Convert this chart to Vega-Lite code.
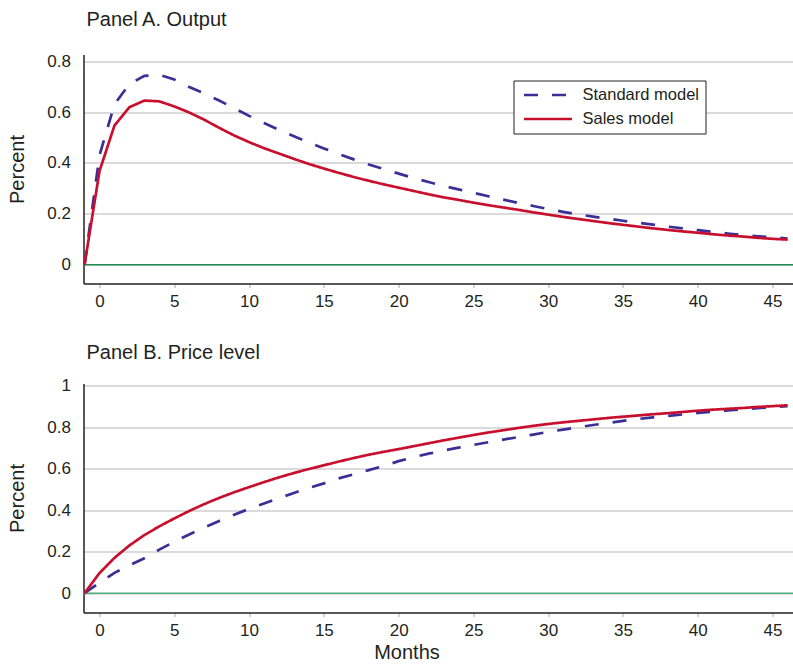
{
  "$schema": "https://vega.github.io/schema/vega-lite/v6.json",
  "padding": {"left": 6.5, "top": 9.5, "right": 0, "bottom": 0},
  "bounds": "flush",
  "spacing": 100,
  "background": "white",
  "config": {
    "font": "Liberation Sans",
    "view": {"stroke": null},
    "axis": {
      "labelFont": "Liberation Sans", "labelFontSize": 17, "labelColor": "#231f20",
      "titleFont": "Liberation Sans", "titleFontSize": 20, "titleFontWeight": "normal", "titleColor": "#231f20",
      "domainColor": "#231f20", "domainWidth": 1.5
    },
    "axisY": {"ticks": false, "labelPadding": 13, "gridColor": "#cfcfcf", "gridWidth": 1.5, "titlePadding": 19.5},
    "axisX": {"grid": false, "tickSize": 4, "tickColor": "#aaaaaa", "tickWidth": 1, "labelPadding": 5.5},
    "title": {"font": "Liberation Sans", "fontSize": 20, "fontWeight": "normal", "anchor": "start", "frame": "group", "color": "#231f20", "dx": 3, "offset": 14},
    "legend": {
      "orient": "none", "legendX": 430, "legendY": 26, "title": null,
      "symbolType": "stroke", "symbolSize": 2304, "symbolStrokeWidth": 2.7,
      "clipHeight": 17, "padding": 6, "rowPadding": 7, "symbolOffset": 3, "labelOffset": 9,
      "labelFont": "Liberation Sans", "labelFontSize": 16.5, "labelColor": "#231f20",
      "strokeColor": "#231f20", "fillColor": "white"
    }
  },
  "datasets": {
    "output": [
      {"t": -1, "v": 0, "model": "Standard model"},
      {"t": 0, "v": 0.43, "model": "Standard model"},
      {"t": 1, "v": 0.63, "model": "Standard model"},
      {"t": 2, "v": 0.71, "model": "Standard model"},
      {"t": 3, "v": 0.742, "model": "Standard model"},
      {"t": 4, "v": 0.746, "model": "Standard model"},
      {"t": 5, "v": 0.728, "model": "Standard model"},
      {"t": 6, "v": 0.698, "model": "Standard model"},
      {"t": 7, "v": 0.673, "model": "Standard model"},
      {"t": 8, "v": 0.645, "model": "Standard model"},
      {"t": 9, "v": 0.615, "model": "Standard model"},
      {"t": 10, "v": 0.585, "model": "Standard model"},
      {"t": 11, "v": 0.557, "model": "Standard model"},
      {"t": 12, "v": 0.53, "model": "Standard model"},
      {"t": 13, "v": 0.505, "model": "Standard model"},
      {"t": 14, "v": 0.48, "model": "Standard model"},
      {"t": 15, "v": 0.457, "model": "Standard model"},
      {"t": 16, "v": 0.435, "model": "Standard model"},
      {"t": 17, "v": 0.414, "model": "Standard model"},
      {"t": 18, "v": 0.394, "model": "Standard model"},
      {"t": 19, "v": 0.376, "model": "Standard model"},
      {"t": 20, "v": 0.358, "model": "Standard model"},
      {"t": 21, "v": 0.341, "model": "Standard model"},
      {"t": 22, "v": 0.325, "model": "Standard model"},
      {"t": 23, "v": 0.31, "model": "Standard model"},
      {"t": 24, "v": 0.296, "model": "Standard model"},
      {"t": 25, "v": 0.283, "model": "Standard model"},
      {"t": 26, "v": 0.269, "model": "Standard model"},
      {"t": 27, "v": 0.256, "model": "Standard model"},
      {"t": 28, "v": 0.243, "model": "Standard model"},
      {"t": 29, "v": 0.231, "model": "Standard model"},
      {"t": 30, "v": 0.219, "model": "Standard model"},
      {"t": 31, "v": 0.208, "model": "Standard model"},
      {"t": 32, "v": 0.198, "model": "Standard model"},
      {"t": 33, "v": 0.189, "model": "Standard model"},
      {"t": 34, "v": 0.181, "model": "Standard model"},
      {"t": 35, "v": 0.173, "model": "Standard model"},
      {"t": 36, "v": 0.165, "model": "Standard model"},
      {"t": 37, "v": 0.158, "model": "Standard model"},
      {"t": 38, "v": 0.15, "model": "Standard model"},
      {"t": 39, "v": 0.143, "model": "Standard model"},
      {"t": 40, "v": 0.136, "model": "Standard model"},
      {"t": 41, "v": 0.129, "model": "Standard model"},
      {"t": 42, "v": 0.123, "model": "Standard model"},
      {"t": 43, "v": 0.117, "model": "Standard model"},
      {"t": 44, "v": 0.112, "model": "Standard model"},
      {"t": 45, "v": 0.108, "model": "Standard model"},
      {"t": 46, "v": 0.103, "model": "Standard model"},
      {"t": -1, "v": 0, "model": "Sales model"},
      {"t": 0, "v": 0.368, "model": "Sales model"},
      {"t": 1, "v": 0.547, "model": "Sales model"},
      {"t": 2, "v": 0.619, "model": "Sales model"},
      {"t": 3, "v": 0.645, "model": "Sales model"},
      {"t": 4, "v": 0.642, "model": "Sales model"},
      {"t": 5, "v": 0.622, "model": "Sales model"},
      {"t": 6, "v": 0.598, "model": "Sales model"},
      {"t": 7, "v": 0.57, "model": "Sales model"},
      {"t": 8, "v": 0.538, "model": "Sales model"},
      {"t": 9, "v": 0.508, "model": "Sales model"},
      {"t": 10, "v": 0.482, "model": "Sales model"},
      {"t": 11, "v": 0.458, "model": "Sales model"},
      {"t": 12, "v": 0.437, "model": "Sales model"},
      {"t": 13, "v": 0.416, "model": "Sales model"},
      {"t": 14, "v": 0.396, "model": "Sales model"},
      {"t": 15, "v": 0.378, "model": "Sales model"},
      {"t": 16, "v": 0.361, "model": "Sales model"},
      {"t": 17, "v": 0.345, "model": "Sales model"},
      {"t": 18, "v": 0.33, "model": "Sales model"},
      {"t": 19, "v": 0.316, "model": "Sales model"},
      {"t": 20, "v": 0.303, "model": "Sales model"},
      {"t": 21, "v": 0.29, "model": "Sales model"},
      {"t": 22, "v": 0.277, "model": "Sales model"},
      {"t": 23, "v": 0.265, "model": "Sales model"},
      {"t": 24, "v": 0.255, "model": "Sales model"},
      {"t": 25, "v": 0.244, "model": "Sales model"},
      {"t": 26, "v": 0.234, "model": "Sales model"},
      {"t": 27, "v": 0.225, "model": "Sales model"},
      {"t": 28, "v": 0.216, "model": "Sales model"},
      {"t": 29, "v": 0.206, "model": "Sales model"},
      {"t": 30, "v": 0.197, "model": "Sales model"},
      {"t": 31, "v": 0.188, "model": "Sales model"},
      {"t": 32, "v": 0.18, "model": "Sales model"},
      {"t": 33, "v": 0.172, "model": "Sales model"},
      {"t": 34, "v": 0.164, "model": "Sales model"},
      {"t": 35, "v": 0.157, "model": "Sales model"},
      {"t": 36, "v": 0.15, "model": "Sales model"},
      {"t": 37, "v": 0.143, "model": "Sales model"},
      {"t": 38, "v": 0.137, "model": "Sales model"},
      {"t": 39, "v": 0.131, "model": "Sales model"},
      {"t": 40, "v": 0.126, "model": "Sales model"},
      {"t": 41, "v": 0.12, "model": "Sales model"},
      {"t": 42, "v": 0.115, "model": "Sales model"},
      {"t": 43, "v": 0.111, "model": "Sales model"},
      {"t": 44, "v": 0.106, "model": "Sales model"},
      {"t": 45, "v": 0.102, "model": "Sales model"},
      {"t": 46, "v": 0.099, "model": "Sales model"}
    ],
    "price": [
      {"t": -1, "v": 0, "model": "Standard model"},
      {"t": 0, "v": 0.05, "model": "Standard model"},
      {"t": 1, "v": 0.098, "model": "Standard model"},
      {"t": 2, "v": 0.135, "model": "Standard model"},
      {"t": 3, "v": 0.168, "model": "Standard model"},
      {"t": 4, "v": 0.21, "model": "Standard model"},
      {"t": 5, "v": 0.248, "model": "Standard model"},
      {"t": 6, "v": 0.283, "model": "Standard model"},
      {"t": 7, "v": 0.316, "model": "Standard model"},
      {"t": 8, "v": 0.348, "model": "Standard model"},
      {"t": 9, "v": 0.378, "model": "Standard model"},
      {"t": 10, "v": 0.406, "model": "Standard model"},
      {"t": 11, "v": 0.432, "model": "Standard model"},
      {"t": 12, "v": 0.458, "model": "Standard model"},
      {"t": 13, "v": 0.483, "model": "Standard model"},
      {"t": 14, "v": 0.507, "model": "Standard model"},
      {"t": 15, "v": 0.529, "model": "Standard model"},
      {"t": 16, "v": 0.553, "model": "Standard model"},
      {"t": 17, "v": 0.573, "model": "Standard model"},
      {"t": 18, "v": 0.593, "model": "Standard model"},
      {"t": 19, "v": 0.613, "model": "Standard model"},
      {"t": 20, "v": 0.636, "model": "Standard model"},
      {"t": 21, "v": 0.655, "model": "Standard model"},
      {"t": 22, "v": 0.672, "model": "Standard model"},
      {"t": 23, "v": 0.687, "model": "Standard model"},
      {"t": 24, "v": 0.701, "model": "Standard model"},
      {"t": 25, "v": 0.714, "model": "Standard model"},
      {"t": 26, "v": 0.727, "model": "Standard model"},
      {"t": 27, "v": 0.74, "model": "Standard model"},
      {"t": 28, "v": 0.752, "model": "Standard model"},
      {"t": 29, "v": 0.764, "model": "Standard model"},
      {"t": 30, "v": 0.777, "model": "Standard model"},
      {"t": 31, "v": 0.788, "model": "Standard model"},
      {"t": 32, "v": 0.799, "model": "Standard model"},
      {"t": 33, "v": 0.81, "model": "Standard model"},
      {"t": 34, "v": 0.82, "model": "Standard model"},
      {"t": 35, "v": 0.83, "model": "Standard model"},
      {"t": 36, "v": 0.839, "model": "Standard model"},
      {"t": 37, "v": 0.847, "model": "Standard model"},
      {"t": 38, "v": 0.854, "model": "Standard model"},
      {"t": 39, "v": 0.861, "model": "Standard model"},
      {"t": 40, "v": 0.868, "model": "Standard model"},
      {"t": 41, "v": 0.874, "model": "Standard model"},
      {"t": 42, "v": 0.88, "model": "Standard model"},
      {"t": 43, "v": 0.886, "model": "Standard model"},
      {"t": 44, "v": 0.891, "model": "Standard model"},
      {"t": 45, "v": 0.896, "model": "Standard model"},
      {"t": 46, "v": 0.901, "model": "Standard model"},
      {"t": -1, "v": 0, "model": "Sales model"},
      {"t": 0, "v": 0.097, "model": "Sales model"},
      {"t": 1, "v": 0.17, "model": "Sales model"},
      {"t": 2, "v": 0.23, "model": "Sales model"},
      {"t": 3, "v": 0.28, "model": "Sales model"},
      {"t": 4, "v": 0.322, "model": "Sales model"},
      {"t": 5, "v": 0.36, "model": "Sales model"},
      {"t": 6, "v": 0.396, "model": "Sales model"},
      {"t": 7, "v": 0.429, "model": "Sales model"},
      {"t": 8, "v": 0.459, "model": "Sales model"},
      {"t": 9, "v": 0.486, "model": "Sales model"},
      {"t": 10, "v": 0.511, "model": "Sales model"},
      {"t": 11, "v": 0.535, "model": "Sales model"},
      {"t": 12, "v": 0.558, "model": "Sales model"},
      {"t": 13, "v": 0.579, "model": "Sales model"},
      {"t": 14, "v": 0.598, "model": "Sales model"},
      {"t": 15, "v": 0.616, "model": "Sales model"},
      {"t": 16, "v": 0.634, "model": "Sales model"},
      {"t": 17, "v": 0.651, "model": "Sales model"},
      {"t": 18, "v": 0.667, "model": "Sales model"},
      {"t": 19, "v": 0.681, "model": "Sales model"},
      {"t": 20, "v": 0.694, "model": "Sales model"},
      {"t": 21, "v": 0.708, "model": "Sales model"},
      {"t": 22, "v": 0.722, "model": "Sales model"},
      {"t": 23, "v": 0.736, "model": "Sales model"},
      {"t": 24, "v": 0.749, "model": "Sales model"},
      {"t": 25, "v": 0.762, "model": "Sales model"},
      {"t": 26, "v": 0.774, "model": "Sales model"},
      {"t": 27, "v": 0.785, "model": "Sales model"},
      {"t": 28, "v": 0.796, "model": "Sales model"},
      {"t": 29, "v": 0.806, "model": "Sales model"},
      {"t": 30, "v": 0.815, "model": "Sales model"},
      {"t": 31, "v": 0.823, "model": "Sales model"},
      {"t": 32, "v": 0.83, "model": "Sales model"},
      {"t": 33, "v": 0.837, "model": "Sales model"},
      {"t": 34, "v": 0.844, "model": "Sales model"},
      {"t": 35, "v": 0.85, "model": "Sales model"},
      {"t": 36, "v": 0.856, "model": "Sales model"},
      {"t": 37, "v": 0.862, "model": "Sales model"},
      {"t": 38, "v": 0.867, "model": "Sales model"},
      {"t": 39, "v": 0.873, "model": "Sales model"},
      {"t": 40, "v": 0.879, "model": "Sales model"},
      {"t": 41, "v": 0.884, "model": "Sales model"},
      {"t": 42, "v": 0.888, "model": "Sales model"},
      {"t": 43, "v": 0.892, "model": "Sales model"},
      {"t": 44, "v": 0.897, "model": "Sales model"},
      {"t": 45, "v": 0.901, "model": "Sales model"},
      {"t": 46, "v": 0.905, "model": "Sales model"}
    ]
  },
  "vconcat": [
    {
      "width": 710,
      "height": 229,
      "title": {"text": "Panel A. Output", "offset": 22},
      "layer": [
        {
          "data": {"values": [{}]},
          "mark": {"type": "rule", "color": "#218c55", "strokeWidth": 1.5},
          "encoding": {"y": {"datum": 0, "type": "quantitative"}}
        },
        {
          "data": {"name": "output"},
          "mark": {"type": "line", "strokeWidth": 2.7, "clip": true},
          "encoding": {
            "x": {
              "field": "t", "type": "quantitative",
              "scale": {"domain": [-1.07, 46.4], "nice": false, "zero": false},
              "axis": {"values": [0, 5, 10, 15, 20, 25, 30, 35, 40, 45], "title": null}
            },
            "y": {
              "field": "v", "type": "quantitative",
              "scale": {"domain": [-0.0735, 0.826], "nice": false, "zero": false},
              "axis": {"values": [0, 0.2, 0.4, 0.6, 0.8], "format": ".1~f", "title": "Percent", "grid": true}
            },
            "color": {
              "field": "model", "type": "nominal",
              "scale": {"domain": ["Standard model", "Sales model"], "range": ["#3a2f96", "#c8102e"]}
            },
            "strokeDash": {
              "field": "model", "type": "nominal",
              "scale": {"domain": ["Standard model", "Sales model"], "range": [[14, 14], [1, 0]]}
            }
          }
        }
      ]
    },
    {
      "width": 710,
      "height": 229,
      "title": {"text": "Panel B. Price level", "offset": 14},
      "layer": [
        {
          "data": {"values": [{}]},
          "mark": {"type": "rule", "color": "#4fb07e", "strokeWidth": 1.5},
          "encoding": {"y": {"datum": 0, "type": "quantitative"}}
        },
        {
          "data": {"name": "price"},
          "mark": {"type": "line", "strokeWidth": 2.7, "clip": true},
          "encoding": {
            "x": {
              "field": "t", "type": "quantitative",
              "scale": {"domain": [-1.07, 46.4], "nice": false, "zero": false},
              "axis": {"values": [0, 5, 10, 15, 20, 25, 30, 35, 40, 45], "title": "Months", "titleX": 323, "titlePadding": 4}
            },
            "y": {
              "field": "v", "type": "quantitative",
              "scale": {"domain": [-0.093, 1.01], "nice": false, "zero": false},
              "axis": {"values": [0, 0.2, 0.4, 0.6, 0.8, 1], "format": ".1~f", "title": "Percent", "grid": true}
            },
            "color": {
              "field": "model", "type": "nominal",
              "scale": {"domain": ["Standard model", "Sales model"], "range": ["#3a2f96", "#c8102e"]},
              "legend": null
            },
            "strokeDash": {
              "field": "model", "type": "nominal",
              "scale": {"domain": ["Standard model", "Sales model"], "range": [[14, 14], [1, 0]]},
              "legend": null
            }
          }
        }
      ]
    }
  ],
  "resolve": {"legend": {"color": "independent", "strokeDash": "independent"}}
}
